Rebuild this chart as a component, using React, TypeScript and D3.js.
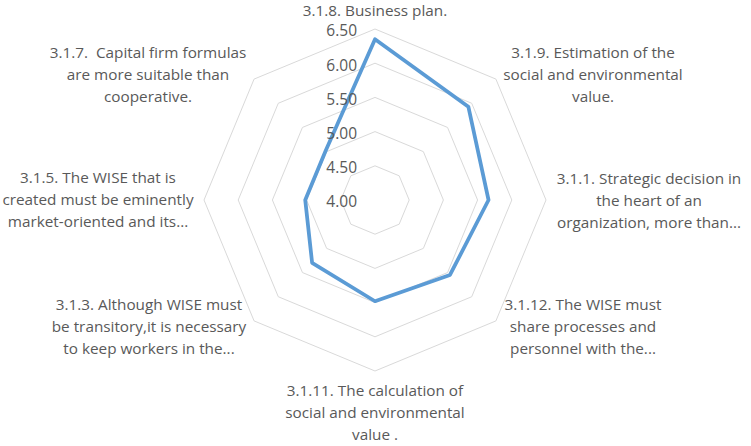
import React, { useEffect, useRef } from 'react';
import * as d3 from 'd3';

// axis labels, clockwise from the top
const categories: string[][] = [
    ['3.1.8. Business plan.'],
    ['3.1.9. Estimation of the', 'social and environmental', 'value.'],
    ['3.1.1. Strategic decision in', 'the heart of an', 'organization, more than...'],
    ['3.1.12. The WISE must', 'share processes and', 'personnel with the...'],
    ['3.1.11. The calculation of', 'social and environmental', 'value .'],
    ['3.1.3. Although WISE must', 'be transitory,it is necessary', 'to keep workers in the...'],
    ['3.1.5. The WISE that is', 'created must be eminently', 'market-oriented and its...'],
    ['3.1.7.  Capital firm formulas', 'are more suitable than', 'cooperative.'],
];

const values: number[] = [6.35, 5.93, 5.66, 5.55, 5.48, 5.30, 5.02, 5.02];

const ticks: number[] = [4.0, 4.5, 5.0, 5.5, 6.0, 6.5];

const App: React.FC = () => {
    const svgRef = useRef<SVGSVGElement | null>(null);

    useEffect(() => {
        if (!svgRef.current) return;
        const svgEl = d3.select(svgRef.current);
        svgEl.selectAll('*').remove();

        const width = 751;
        const height = 446;
        const cx = 375;
        const cy = 200;
        const outer = 171;
        const font = "'Open Sans', 'Noto Sans', sans-serif";

        svgEl.attr('width', width).attr('height', height);

        const r = d3.scaleLinear().domain([4, 6.5]).range([0, outer]);
        const n = categories.length;
        const angle = (i: number) => (i * 2 * Math.PI) / n;

        const g = svgEl.append('g').attr('transform', `translate(${cx},${cy})`);

        // grid octagons
        const ring = d3.lineRadial<number>()
            .angle((_, i) => angle(i))
            .radius(d => r(d))
            .curve(d3.curveLinearClosed);

        g.selectAll('.grid')
            .data(ticks.slice(1))
            .enter()
            .append('path')
            .attr('d', t => ring(d3.range(n).map(() => t)))
            .attr('fill', 'none')
            .attr('stroke', '#d9d9d9')
            .attr('stroke-width', 1);

        // series line
        g.append('path')
            .datum(values)
            .attr('d', ring)
            .attr('fill', 'none')
            .attr('stroke', '#5b9bd5')
            .attr('stroke-width', 3.75)
            .attr('stroke-linejoin', 'round');

        // tick labels
        g.selectAll('.tick')
            .data(ticks)
            .enter()
            .append('text')
            .attr('x', -18)
            .attr('y', t => -r(t) + 2)
            .attr('dy', '0.35em')
            .attr('text-anchor', 'end')
            .style('font-family', font)
            .style('font-size', '15.5px')
            .style('fill', '#595959')
            .text(t => t.toFixed(2));

        // category labels
        const labelPos: [number, number][] = [
            [375, 11], [593, 53], [649, 179], [583, 305],
            [375, 391], [149, 305], [98, 178], [148, 53],
        ];
        categories.forEach((lines, i) => {
            const t = svgEl.append('text')
                .attr('text-anchor', 'middle')
                .style('font-family', font)
                .style('font-size', '15.3px')
                .style('white-space', 'pre')
                .style('fill', '#595959');
            lines.forEach((line, j) => {
                t.append('tspan')
                    .attr('x', labelPos[i][0])
                    .attr('y', labelPos[i][1] + j * 21.7)
                    .attr('dy', '0.35em')
                    .text(line);
            });
        });
    }, []);

    return (
        <svg ref={svgRef} style={{ position: 'absolute', left: 0, top: 0, background: '#fff' }} />
    );
};

export default App;
